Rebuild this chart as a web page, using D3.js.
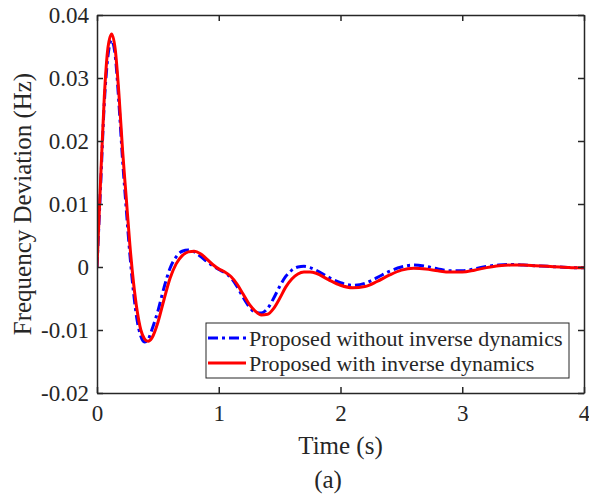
<!DOCTYPE html>
<html>
<head>
<meta charset="utf-8">
<script src="https://cdn.jsdelivr.net/npm/d3@7"></script>
<style>
  body { margin: 0; background: #fff; }
  svg { display: block; }
  text { font-family: "Liberation Serif", "Times New Roman", serif; fill: #262626; }
</style>
</head>
<body>
<div id="chart"></div>
<script>
// data
var time = [0, 0.03, 0.06, 0.09, 0.12, 0.15, 0.18, 0.21, 0.24, 0.27, 0.30, 0.33, 0.36, 0.39, 0.42, 0.45,
  0.50, 0.55, 0.60, 0.65, 0.70, 0.75, 0.80, 0.85, 0.90, 0.95, 1.00, 1.05, 1.10, 1.15, 1.20, 1.25, 1.30,
  1.35, 1.40, 1.45, 1.50, 1.55, 1.60, 1.65, 1.70, 1.75, 1.80, 1.90, 2.00, 2.10, 2.20, 2.30, 2.40, 2.50,
  2.60, 2.70, 2.80, 2.90, 3.00, 3.10, 3.20, 3.30, 3.40, 3.50, 3.60, 3.70, 3.80, 3.90, 4.00];

var withoutInv = [0, 0.013, 0.026, 0.0335, 0.0360, 0.0335, 0.0260, 0.0170, 0.0093, 0.0020, -0.0040, -0.0085,
  -0.0110, -0.0119, -0.0115, -0.0100, -0.0070, -0.0033, -0.0002, 0.0016, 0.0025, 0.0027, 0.0024, 0.0017,
  0.0009, 0.0002, -0.0004, -0.0009, -0.0017, -0.0031, -0.0048, -0.0063, -0.0072, -0.0073, -0.0066, -0.0050,
  -0.0031, -0.0015, -0.0005, 0.0000, 0.0001, -0.0001, -0.0005, -0.0016, -0.0025, -0.0029, -0.0026, -0.0017,
  -0.0007, 0.0000, 0.0003, 0.0001, -0.0003, -0.0006, -0.0006, -0.0003, 0.0001, 0.0003, 0.0004, 0.0003,
  0.0002, 0.0001, 0.0000, -0.0001, -0.0001];

var withInv = [0, 0.014, 0.027, 0.0348, 0.0370, 0.0345, 0.0275, 0.0185, 0.0110, 0.0035, -0.0025, -0.0070,
  -0.0100, -0.0114, -0.0118, -0.0113, -0.0088, -0.0052, -0.0018, 0.0005, 0.0018, 0.0024, 0.0025, 0.0021,
  0.0013, 0.0004, -0.0003, -0.0008, -0.0015, -0.0027, -0.0043, -0.0059, -0.0070, -0.0076, -0.0075, -0.0066,
  -0.0050, -0.0032, -0.0019, -0.0011, -0.0008, -0.0008, -0.0010, -0.0020, -0.0029, -0.0033, -0.0031, -0.0023,
  -0.0013, -0.0005, -0.0002, -0.0003, -0.0006, -0.0008, -0.0008, -0.0005, -0.0001, 0.0002, 0.0003, 0.0003,
  0.0002, 0.0001, 0.0000, -0.0001, -0.0001];

var xTicks = [0, 1, 2, 3, 4];
var yTicks = [-0.02, -0.01, 0, 0.01, 0.02, 0.03, 0.04];
var yTickLabels = ['-0.02', '-0.01', '0', '0.01', '0.02', '0.03', '0.04'];
var seriesNames = ['Proposed without inverse dynamics', 'Proposed with inverse dynamics'];

var width = 589, height = 499;
var margin = {left: 97, right: 5, top: 15, bottom: 106};
var axisColor = '#262626';
var serif = '"Liberation Serif", "Times New Roman", serif';

var svg = d3.select('#chart').append('svg')
  .attr('width', width)
  .attr('height', height);

var x = d3.scaleLinear().domain([0, 4]).range([margin.left, width - margin.right]);
var y = d3.scaleLinear().domain([-0.02, 0.04]).range([height - margin.bottom, margin.top]);

// clip for the lines
svg.append('clipPath').attr('id', 'plotClip')
  .append('rect')
  .attr('x', x(0)).attr('y', y(0.04))
  .attr('width', x(4) - x(0)).attr('height', y(-0.02) - y(0.04));

var line = d3.line()
  .x(function (d) { return x(d[0]); })
  .y(function (d) { return y(d[1]); })
  .curve(d3.curveMonotoneX);

var plot = svg.append('g').attr('clip-path', 'url(#plotClip)');

plot.append('path')
  .datum(time.map(function (t, i) { return [t, withoutInv[i]]; }))
  .attr('d', line)
  .attr('fill', 'none')
  .attr('stroke', '#0000ff')
  .attr('stroke-width', 3)
  .attr('stroke-dasharray', '10,4,3,4');

plot.append('path')
  .datum(time.map(function (t, i) { return [t, withInv[i]]; }))
  .attr('d', line)
  .attr('fill', 'none')
  .attr('stroke', '#ff0000')
  .attr('stroke-width', 3);

// axes, ticks pointing inward like MATLAB
var tickLen = 6;
var xAxis = svg.append('g')
  .attr('transform', 'translate(0,' + y(-0.02) + ')')
  .call(d3.axisBottom(x).tickValues(xTicks).tickSizeInner(-tickLen).tickSizeOuter(0).tickPadding(12)
    .tickFormat(d3.format('d')));
var yAxis = svg.append('g')
  .attr('transform', 'translate(' + x(0) + ',0)')
  .call(d3.axisLeft(y).tickValues(yTicks).tickSizeInner(-tickLen).tickSizeOuter(0).tickPadding(8)
    .tickFormat(function (d, i) { return yTickLabels[i]; }));
var xTop = svg.append('g')
  .attr('transform', 'translate(0,' + y(0.04) + ')')
  .call(d3.axisTop(x).tickValues(xTicks).tickSizeInner(-tickLen).tickSizeOuter(0).tickFormat(''));
var yRight = svg.append('g')
  .attr('transform', 'translate(' + x(4) + ',0)')
  .call(d3.axisRight(y).tickValues(yTicks).tickSizeInner(-tickLen).tickSizeOuter(0).tickFormat(''));

[xAxis, yAxis, xTop, yRight].forEach(function (g) {
  g.attr('font-family', serif).attr('font-size', 23);
  g.select('.domain').attr('stroke', axisColor).attr('stroke-width', 1.5);
  g.selectAll('.tick line').attr('stroke', axisColor).attr('stroke-width', 1.5);
  g.selectAll('.tick text')
    .style('font-family', serif)
    .attr('font-size', 23)
    .attr('fill', axisColor);
});

// axis labels
svg.append('text')
  .attr('x', (x(0) + x(4)) / 2)
  .attr('y', 454)
  .attr('text-anchor', 'middle')
  .attr('font-size', 25)
  .text('Time (s)');

svg.append('text')
  .attr('transform', 'translate(31,' + (y(0.04) + y(-0.02)) / 2 + ')rotate(-90)')
  .attr('text-anchor', 'middle')
  .attr('font-size', 25)
  .text('Frequency Deviation (Hz)');

svg.append('text')
  .attr('x', 328)
  .attr('y', 488)
  .attr('text-anchor', 'middle')
  .attr('font-size', 25)
  .text('(a)');

// legend
var legend = svg.append('g').attr('transform', 'translate(206,323)');
legend.append('rect')
  .attr('width', 363).attr('height', 55)
  .attr('fill', '#fff')
  .attr('stroke', axisColor)
  .attr('stroke-width', 1);

var legendStyles = [
  {color: '#0000ff', dash: '10,4,3,4'},
  {color: '#ff0000', dash: null}
];
seriesNames.forEach(function (name, i) {
  var cy = 15 + i * 25;
  legend.append('line')
    .attr('x1', 2).attr('x2', 40)
    .attr('y1', cy).attr('y2', cy)
    .attr('stroke', legendStyles[i].color)
    .attr('stroke-width', 3)
    .attr('stroke-dasharray', legendStyles[i].dash);
  legend.append('text')
    .attr('x', 43)
    .attr('y', cy + 8)
    .attr('font-size', 22)
    .text(name);
});
</script>
</body>
</html>
